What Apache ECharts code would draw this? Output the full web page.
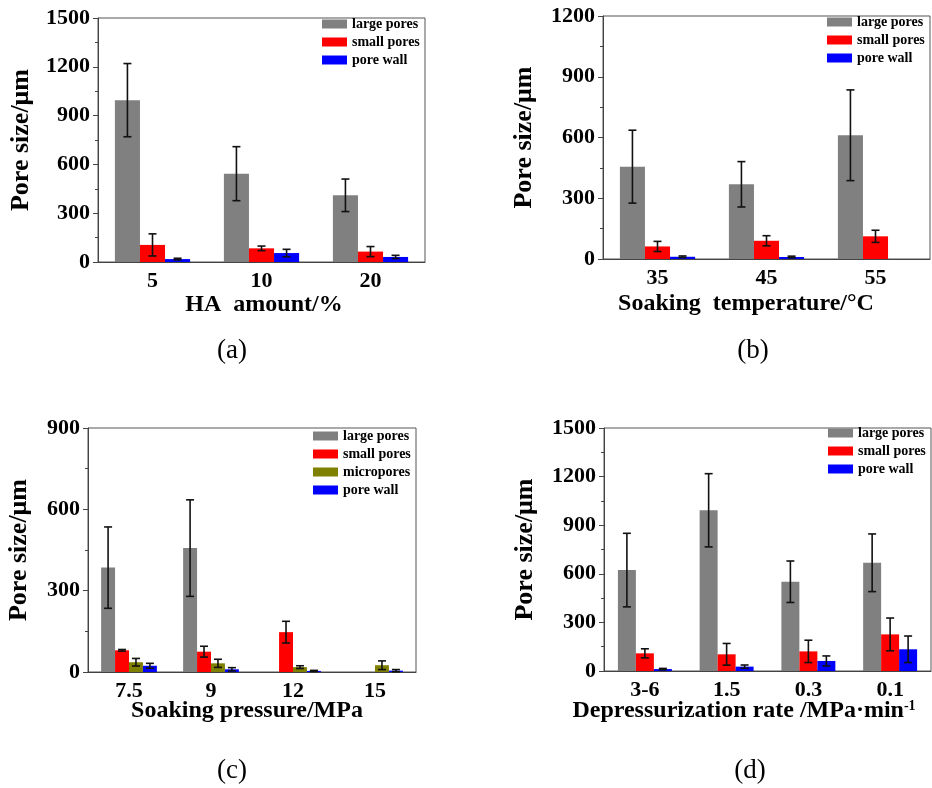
<!DOCTYPE html>
<html lang="en">
<head>
<meta charset="UTF-8" />
<title>pore size</title>
<script src="https://cdn.jsdelivr.net/npm/echarts@6/dist/echarts.min.js"></script>
<style>
  html, body { margin: 0; padding: 0; background: #fff; }
  #chart { width: 932px; height: 788px; }
</style>
</head>
<body>
<div id="chart"></div>
<script>
// (a) HA amount
const catsA = ['5', '10', '20'];
const largeA = [995, 543, 410];
const largeErrA = [225, 166, 100];
const smallA = [105, 84, 64];
const smallErrA = [68, 14, 31];
const wallA = [18, 55, 31];
const wallErrA = [5, 23, 10];

// (b) soaking temperature
const catsB = ['35', '45', '55'];
const largeB = [456, 369, 611];
const largeErrB = [180, 112, 224];
const smallB = [62, 90, 112];
const smallErrB = [25, 25, 30];
const wallB = [11, 10, 0];
const wallErrB = [4, 4, 0];

// (c) soaking pressure
const catsC = ['7.5', '9', '12', '15'];
const largeC = [385, 457, 0, 0];
const largeErrC = [150, 178, 0, 0];
const smallC = [80, 75, 147, 0];
const smallErrC = [3, 20, 40, 0];
const microC = [36, 32, 18, 25];
const microErrC = [14, 15, 5, 16];
const wallC = [23, 10, 4, 5];
const wallErrC = [9, 6, 2, 4];

// (d) depressurization rate
const catsD = ['3-6', '1.5', '0.3', '0.1'];
const largeD = [623, 992, 551, 668];
const largeErrD = [227, 226, 128, 178];
const smallD = [109, 103, 121, 226];
const smallErrD = [28, 67, 69, 101];
const wallD = [12, 27, 62, 134];
const wallErrD = [4, 10, 31, 82];

const yMaxes = [1500, 1200, 900, 1500];

const FONT = "'Liberation Serif', 'Times New Roman', serif";
const COLORS = {
  'large pores': '#808080',
  'small pores': '#ff0000',
  'micropores': '#808000',
  'pore wall': '#0000ff'
};

const panels = [
  {
    grid: { left: 98, top: 18, width: 327, height: 244 },
    cats: catsA, frac: 0.23, nameGap: 64,
    legend: { left: 322, top: 17 },
    series: [
      ['large pores', largeA, largeErrA],
      ['small pores', smallA, smallErrA],
      ['pore wall', wallA, wallErrA]
    ]
  },
  {
    grid: { left: 603, top: 16, width: 327, height: 243 },
    cats: catsB, frac: 0.23, nameGap: 66,
    legend: { left: 827, top: 15 },
    series: [
      ['large pores', largeB, largeErrB],
      ['small pores', smallB, smallErrB],
      ['pore wall', wallB, wallErrB]
    ]
  },
  {
    grid: { left: 88, top: 428, width: 328, height: 244 },
    cats: catsC, frac: 0.17, nameGap: 56,
    legend: { left: 313, top: 429 },
    series: [
      ['large pores', largeC, largeErrC],
      ['small pores', smallC, smallErrC],
      ['micropores', microC, microErrC],
      ['pore wall', wallC, wallErrC]
    ]
  },
  {
    grid: { left: 604, top: 428, width: 327, height: 243 },
    cats: catsD, frac: 0.22, nameGap: 66,
    legend: { left: 828, top: 426 },
    series: [
      ['large pores', largeD, largeErrD],
      ['small pores', smallD, smallErrD],
      ['pore wall', wallD, wallErrD]
    ]
  }
];

const grid = [], xAxis = [], yAxis = [], legend = [], series = [];

panels.forEach((p, idx) => {
  grid.push(Object.assign({
    show: true, borderColor: '#555', borderWidth: 1, backgroundColor: 'transparent'
  }, p.grid));

  // labels + centre ticks
  xAxis.push({
    type: 'category', gridIndex: idx, data: p.cats,
    axisLine: { lineStyle: { color: '#444', width: 1 } },
    axisTick: { alignWithLabel: true, length: 5, lineStyle: { color: '#444' } },
    axisLabel: { color: '#000', fontFamily: FONT, fontWeight: 'bold', fontSize: 22, margin: 8 }
  });
  // boundary ticks
  xAxis.push({
    type: 'category', gridIndex: idx, data: p.cats,
    axisLine: { show: false },
    axisTick: { length: 4, lineStyle: { color: '#444' } },
    axisLabel: { show: false }
  });

  yAxis.push({
    type: 'value', gridIndex: idx, min: 0, max: yMaxes[idx], interval: 300,
    name: 'Pore size/μm', nameLocation: 'middle', nameGap: p.nameGap,
    nameTextStyle: { color: '#000', fontFamily: FONT, fontWeight: 'bold', fontSize: 26 },
    axisLine: { show: true, lineStyle: { color: '#444', width: 1 } },
    axisTick: { show: true, length: 5, lineStyle: { color: '#444' } },
    minorTick: { show: true, splitNumber: 2, length: 3, lineStyle: { color: '#444' } },
    splitLine: { show: false },
    axisLabel: {
      color: '#000', fontFamily: FONT, fontWeight: 'bold', fontSize: 22, margin: 8,
      formatter: v => String(v)
    }
  });

  legend.push({
    orient: 'vertical', left: p.legend.left, top: p.legend.top, padding: 0,
    itemWidth: 25, itemHeight: 9, itemGap: 4, icon: 'rect',
    data: p.series.map(s => s[0]),
    textStyle: { color: '#000', fontFamily: FONT, fontWeight: 'bold', fontSize: 14 }
  });

  const n = p.series.length;
  p.series.forEach(([name, vals, errs], k) => {
    series.push({
      name, type: 'bar', xAxisIndex: idx * 2, yAxisIndex: idx,
      barWidth: (p.frac * 100) + '%', barGap: '0%',
      itemStyle: { color: COLORS[name] },
      data: vals
    });
    series.push({
      name: name + ' err', type: 'custom', xAxisIndex: idx * 2, yAxisIndex: idx, z: 10,
      data: vals.map((v, i) => [i, v, errs[i]]),
      renderItem: (params, api) => {
        const i = api.value(0), v = api.value(1), e = api.value(2);
        if (!e) return;
        const bw = api.size([1, 0])[0] * p.frac;
        const dx = (k - (n - 1) / 2) * bw;
        const hi = api.coord([i, v + e]);
        const lo = api.coord([i, v - e]);
        const x = hi[0] + dx, cap = 4;
        const st = { stroke: '#111', lineWidth: 1.6 };
        return {
          type: 'group',
          children: [
            { type: 'line', shape: { x1: x, y1: hi[1], x2: x, y2: lo[1] }, style: st },
            { type: 'line', shape: { x1: x - cap, y1: hi[1], x2: x + cap, y2: hi[1] }, style: st },
            { type: 'line', shape: { x1: x - cap, y1: lo[1], x2: x + cap, y2: lo[1] }, style: st }
          ]
        };
      }
    });
  });
});

const titleStyle = { fill: '#000', fontFamily: FONT, fontWeight: 'bold', fontSize: 24, align: 'center', verticalAlign: 'middle' };
const tagStyle = { fill: '#000', fontFamily: FONT, fontSize: 27, align: 'center', verticalAlign: 'middle' };

const graphic = [
  { type: 'text', x: 264, y: 305, style: Object.assign({ text: 'HA  amount/%' }, titleStyle) },
  { type: 'text', x: 746, y: 304, style: Object.assign({ text: 'Soaking  temperature/°C' }, titleStyle) },
  { type: 'text', x: 247, y: 711, style: Object.assign({ text: 'Soaking pressure/MPa' }, titleStyle) },
  { type: 'text', x: 744, y: 711, style: Object.assign({
      text: 'Depressurization rate /MPa·min{sup|-1}',
      rich: { sup: { fontFamily: FONT, fontWeight: 'bold', fontSize: 14, verticalAlign: 'top' } }
    }, titleStyle) },
  { type: 'text', x: 232, y: 351, style: Object.assign({ text: '(a)' }, tagStyle) },
  { type: 'text', x: 753, y: 351, style: Object.assign({ text: '(b)' }, tagStyle) },
  { type: 'text', x: 232, y: 771, style: Object.assign({ text: '(c)' }, tagStyle) },
  { type: 'text', x: 750, y: 771, style: Object.assign({ text: '(d)' }, tagStyle) }
];

const chart = echarts.init(document.getElementById('chart'));
chart.setOption({
  animation: false,
  backgroundColor: '#fff',
  grid, xAxis, yAxis, legend, series, graphic
});
</script>
</body>
</html>
